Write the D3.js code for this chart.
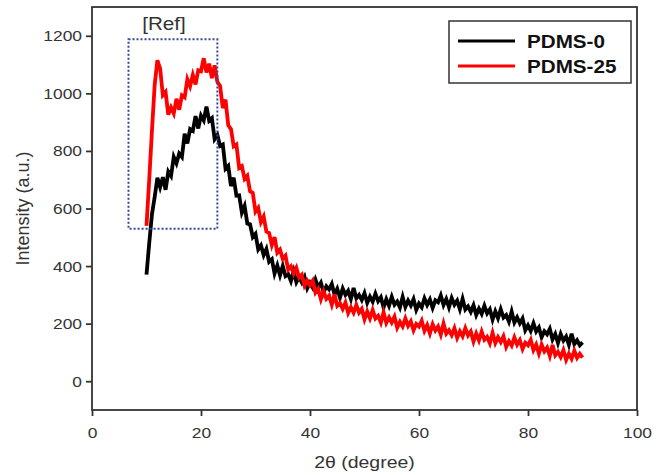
<!DOCTYPE html>
<html><head><meta charset="utf-8">
<script src="https://cdn.jsdelivr.net/npm/d3@7"></script>
<style>body{margin:0;background:#fff}svg{display:block}text{font-family:Arial,"Liberation Sans",sans-serif}</style>
</head><body><svg id="c" width="664" height="475"></svg>
<script>
// 2θ sampling (degrees), 0.5° step from 10 to 90
const angles = d3.range(10, 90.001, 0.5);
const pdms0 = [370,480,580,640,707,674,709,665,728,713,779,757,791,779,860,826,876,870,921,878,923,906,954,905,914,841,855,817,822,738,748,678,707,645,646,586,609,548,545,501,512,458,472,438,459,415,424,374,402,368,400,365,372,348,382,344,362,343,362,323,342,325,353,326,342,309,330,319,338,301,321,290,322,300,314,286,324,288,300,282,306,272,294,276,304,278,292,256,285,262,293,266,277,256,293,258,280,263,285,248,270,257,288,265,284,255,281,274,298,265,286,257,289,266,280,250,286,249,260,241,264,230,252,234,262,236,250,214,243,219,250,221,230,207,242,204,222,201,218,177,194,175,201,173,187,153,174,163,182,145,164,133,164,141,155,127,165,129,142,125,135];
const pdms25 = [540,700,870,1029,1115,1086,994,1005,926,951,930,981,943,993,986,1049,1025,1064,1031,1080,1077,1122,1073,1103,1053,1097,1040,1026,949,978,889,876,816,822,741,747,703,714,660,654,589,602,553,572,520,515,473,501,446,457,425,436,388,399,374,394,360,370,332,349,334,349,308,321,285,312,286,297,266,301,262,271,251,273,237,257,238,265,238,251,215,242,218,247,218,227,204,239,203,222,204,224,186,206,190,218,192,208,177,199,190,210,175,195,166,198,176,190,162,200,165,177,160,184,151,173,156,184,159,173,138,166,142,172,144,154,132,168,133,153,136,156,119,139,124,152,127,143,112,134,125,144,108,127,96,127,104,117,88,126,90,102,84,108,74,96,78,106,81,95,82];
const xTicks = [0,20,40,60,80,100];
const yTicks = [0,200,400,600,800,1000,1200];
const seriesNames = ["PDMS-0","PDMS-25"];
const seriesColors = ["#000000","#ff0000"];
const refBox = {x0:6.7, x1:23.0, y0:530, y1:1188};

const svg = d3.select("#c");
const L=92, R=637, T=7, B=410;
const SX=1.18; // horizontal text stretch seen in the reference
const x = d3.scaleLinear().domain([0,100]).range([L,R]);
const y = d3.scaleLinear().domain([-100,1300]).range([B,T]);
const axisColor="#333";

function stext(px,py,str,size,opts={}){
  return svg.append("text").attr("transform",`translate(${px},${py}) scale(${SX},1)`)
    .attr("text-anchor",opts.anchor||"start").attr("font-size",size)
    .attr("font-weight",opts.weight||"normal").attr("fill",opts.fill||"#333").text(str);
}

// series
const line = d3.line().x((d,i)=>x(angles[i])).y(d=>y(d));
[pdms0,pdms25].forEach((s,k)=>{
  svg.append("path").datum(s).attr("d",line).attr("fill","none")
    .attr("stroke",seriesColors[k]).attr("stroke-width",3.8).attr("stroke-linejoin","miter");
});

// frame
svg.append("rect").attr("x",L).attr("y",T).attr("width",R-L).attr("height",B-T)
  .attr("fill","none").attr("stroke",axisColor).attr("stroke-width",1.8);

const gx = svg.append("g").attr("transform",`translate(0,${B})`)
  .call(d3.axisBottom(x).tickValues(xTicks).tickSize(6).tickFormat(d3.format("d")));
const gy = svg.append("g").attr("transform",`translate(${L},0)`)
  .call(d3.axisLeft(y).tickValues(yTicks).tickSize(6).tickFormat(d3.format("d")));
[gx,gy].forEach(g=>{
  g.select(".domain").remove();
  g.selectAll(".tick line").attr("stroke",axisColor).attr("stroke-width",1.8);
  g.selectAll(".tick text").attr("fill","#333").attr("font-size",14.5).attr("dy",null);
});
gx.selectAll(".tick text").attr("y",0).attr("transform","translate(0,28) scale(1.2,1)");
gy.selectAll(".tick text").attr("x",0).attr("transform","translate(-10,5) scale(1.2,1)");

// dotted ref box
svg.append("rect").attr("x",x(refBox.x0)).attr("y",y(refBox.y1))
  .attr("width",x(refBox.x1)-x(refBox.x0)).attr("height",y(refBox.y0)-y(refBox.y1))
  .attr("fill","none").attr("stroke","#34479a").attr("stroke-width",2).attr("stroke-dasharray","2,2");
stext(164,30,"[Ref]",17.5,{anchor:"middle"});

// legend
svg.append("rect").attr("x",449).attr("y",21).attr("width",182).attr("height",62)
  .attr("fill","#fff").attr("stroke",axisColor).attr("stroke-width",1.5);
seriesNames.forEach((n,k)=>{
  const yy = 41 + k*25;
  svg.append("line").attr("x1",458).attr("x2",515).attr("y1",yy).attr("y2",yy)
    .attr("stroke",seriesColors[k]).attr("stroke-width",3);
  stext(527,yy+6.5,n,17.5,{weight:"bold",fill:"#111"});
});

// axis titles
stext((L+R)/2,468,"2θ (degree)",16.5,{anchor:"middle"});
svg.append("text").attr("transform",`translate(29,${(T+B)/2}) rotate(-90)`).attr("text-anchor","middle")
  .attr("font-size",18).attr("fill","#333").text("Intensity (a.u.)");
</script></body></html>
